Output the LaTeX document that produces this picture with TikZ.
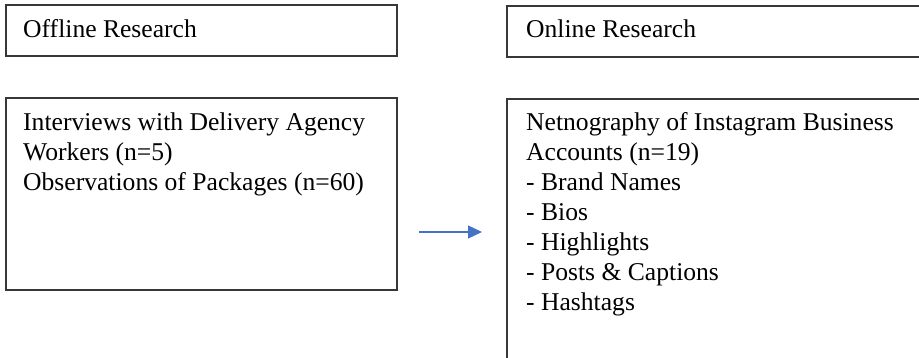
\documentclass[tikz,border=0pt]{standalone}
\usepackage{fontspec}
\setmainfont{Liberation Serif}
\usetikzlibrary{arrows.meta}
\definecolor{framegray}{RGB}{55,55,55}
\definecolor{arrowblue}{RGB}{68,114,196}
\tikzset{
  frame/.style={draw=framegray, line width=1.4pt},
  label text/.style={anchor=base west, inner sep=0pt, font=\fontsize{25.6}{30}\selectfont},
  flow/.style={draw=arrowblue, line width=1.3pt, -{Triangle[length=14pt,width=13pt]}}
}
\begin{document}
\begin{tikzpicture}[x=1pt,y=-1pt]
  \useasboundingbox (0,0) rectangle (919,358);
  \clip (0,0) rectangle (919,358);

  % frames
  \draw[frame] (6,5) rectangle (397,56);
  \draw[frame] (507,6) rectangle (930,57);
  \draw[frame] (6,98) rectangle (397,290);
  \draw[frame] (507,99) rectangle (930,370);

  % headings
  \node[label text] (offline) at (23,38) {Offline Research};
  \node[label text] (online) at (526,38) {Online Research};

  % contents
  \node[label text] (offbody) at (23,131) {\begin{tabular}[t]{@{}l@{}}
    Interviews with Delivery Agency\\
    Workers (n=5)\\
    Observations of Packages (n=60)
  \end{tabular}};
  \node[label text] (onbody) at (526,131) {\begin{tabular}[t]{@{}l@{}}
    Netnography of Instagram Business\\
    Accounts (n=19)\\
    - Brand Names\\
    - Bios\\
    - Highlights\\
    - Posts \& Captions\\
    - Hashtags
  \end{tabular}};

  % connector between the two columns
  \coordinate (from) at (419,232);
  \coordinate (to) at (482,232);
  \draw[flow] (from) -- (to);
\end{tikzpicture}
\end{document}
